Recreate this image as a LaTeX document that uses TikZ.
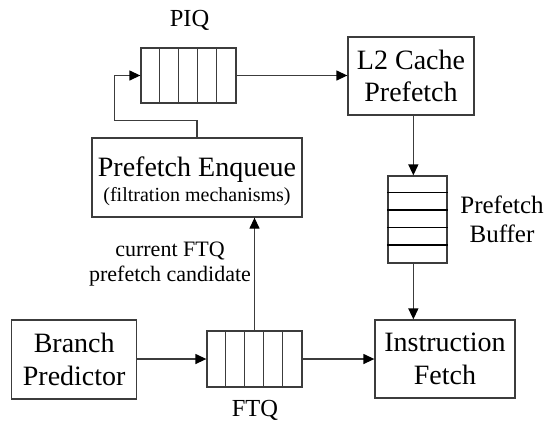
\documentclass[tikz,border=0pt]{standalone}
\usepackage{fontspec}
\setmainfont{Liberation Serif}
\usetikzlibrary{arrows.meta,calc}
\definecolor{ln}{RGB}{60,60,60}
\begin{document}
\begin{tikzpicture}[x=1pt,y=-1pt,
 box/.style={draw=ln, line width=1.3pt, rectangle, inner sep=0pt, align=center, font=\fontsize{28}{32.5}\selectfont},
 cellbox/.style={draw=ln, line width=1.3pt, rectangle, inner sep=0pt},
 cell/.style={draw=ln, line width=1.3pt},
 bufline/.style={draw=black, line width=1.4pt},
 arr/.style={draw=ln, line width=1.3pt, -{Triangle[length=11pt,width=10pt,black]}},
 lbl/.style={inner sep=0pt, align=center}]
\useasboundingbox (0,0) rectangle (545,424);

% PIQ
\node[cellbox, minimum width=95pt, minimum height=55pt] (piq) at (188.5,75.5) {};
\foreach \k in {1,...,4}
  \draw[cell] ($(piq.north west)+(19*\k,0)$) -- ($(piq.south west)+(19*\k,0)$);
\node[lbl, font=\fontsize{24.5}{28}\selectfont, anchor=base] (piqlabel) at (189.5,26) {PIQ};

% L2 cache prefetch
\node[box, minimum width=126pt, minimum height=78pt] (l2) at (411,76) {L2 Cache\\Prefetch};

% Prefetch enqueue
\node[cellbox, minimum width=210pt, minimum height=79pt] (enq) at (197,177.5) {};
\node[lbl, font=\fontsize{20}{25}\selectfont] (enqtext) at (197,181) {{\fontsize{28}{25}\selectfont Prefetch Enqueue}\\(filtration mechanisms)};

% Prefetch buffer
\node[cellbox, minimum width=59pt, minimum height=87pt] (buf) at (417.5,219.5) {};
\foreach \k in {1,...,4}
  \draw[bufline] ($(buf.north west)+(0,17.4*\k)$) -- ($(buf.north east)+(0,17.4*\k)$);
\node[lbl, font=\fontsize{25}{29.4}\selectfont] (buflabel) at (502,219.5) {Prefetch\\Buffer};

% Bottom row
\node[box, minimum width=125pt, minimum height=79pt] (bp) at (74.2,359.5) {Branch\\Predictor};
\node[cellbox, minimum width=95pt, minimum height=56pt] (ftq) at (254.5,359) {};
\foreach \k in {1,...,4}
  \draw[cell] ($(ftq.north west)+(19*\k,0)$) -- ($(ftq.south west)+(19*\k,0)$);
\node[lbl, font=\fontsize{24.5}{28}\selectfont, anchor=base] (ftqlabel) at (255,416) {FTQ};
\node[box, minimum width=140pt, minimum height=78pt] (ifetch) at (445,359) {Instruction\\Fetch};

\node[lbl, font=\fontsize{22}{25}\selectfont] (cand) at (170,264.3) {current FTQ\\prefetch candidate};

% Connectors
\draw[arr] (piq.east) -- (piq.east -| l2.west);
\draw[arr] (enq.north) -- ++(0,-17) -| ($(piq.west)+(-26,0)$) -- (piq.west);
\coordinate (bxn) at ($(buf.north west)+(26,0)$);
\coordinate (bxs) at ($(buf.south west)+(26,0)$);
\draw[arr] (bxn |- l2.south) -- (bxn);
\draw[arr] (bxs) -- (bxs |- ifetch.north);
\draw[arr] (bp.east |- ftq.west) -- (ftq.west);
\draw[arr] (ftq.east) -- (ftq.east -| ifetch.west);
\draw[arr] (ftq.north) -- (ftq.north |- enq.south);
\end{tikzpicture}
\end{document}
